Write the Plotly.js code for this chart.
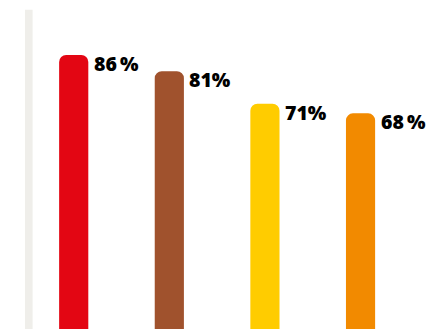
<!DOCTYPE html>
<html>
<head>
<meta charset="utf-8">
<script src="https://cdn.plot.ly/plotly-3.0.1.min.js"></script>
<style>html,body{margin:0;padding:0;background:#fff;overflow:hidden}#chart{width:429px;height:329px}</style>
</head>
<body>
<div id="chart"></div>
<script>
var categories = ["A", "B", "C", "D"];
var values = [86, 81, 71, 68];
var labels = ["86\u2009%", "81%", "71%", "68\u2009%"];
var colors = ["#E30613", "#A0522D", "#FFCC00", "#F28A00"];
var trackMax = 100;

var idx = categories.map(function (c, i) { return i; });

var trace = {
  type: "bar",
  x: idx,
  y: values,
  width: 0.305,
  marker: { color: colors, cornerradius: 7 },
  hoverinfo: "skip"
};

var annotations = values.map(function (v, i) {
  return {
    x: i, y: v, xref: "x", yref: "y",
    text: labels[i],
    showarrow: false,
    xanchor: "left", yanchor: "top",
    xshift: 18, yshift: 7,
    font: { family: "Open Sans, Arial, sans-serif", size: 19.5, color: "#000", weight: 800 }
  };
});

var layout = {
  width: 429, height: 329,
  margin: { l: 0, r: 0, t: 0, b: 0 },
  paper_bgcolor: "#fff", plot_bgcolor: "#fff",
  showlegend: false,
  xaxis: { range: [-0.771, 3.716], visible: false, fixedrange: true },
  yaxis: { range: [1.42, 103], visible: false, fixedrange: true },
  shapes: [{
    type: "rect", xref: "x", yref: "y",
    x0: -0.51, x1: -0.43, y0: 0, y1: trackMax,
    fillcolor: "#EFEEEA", line: { width: 0 }, layer: "below"
  }],
  annotations: annotations
};

Plotly.newPlot("chart", [trace], layout, { staticPlot: true, displayModeBar: false });
</script>
</body>
</html>
